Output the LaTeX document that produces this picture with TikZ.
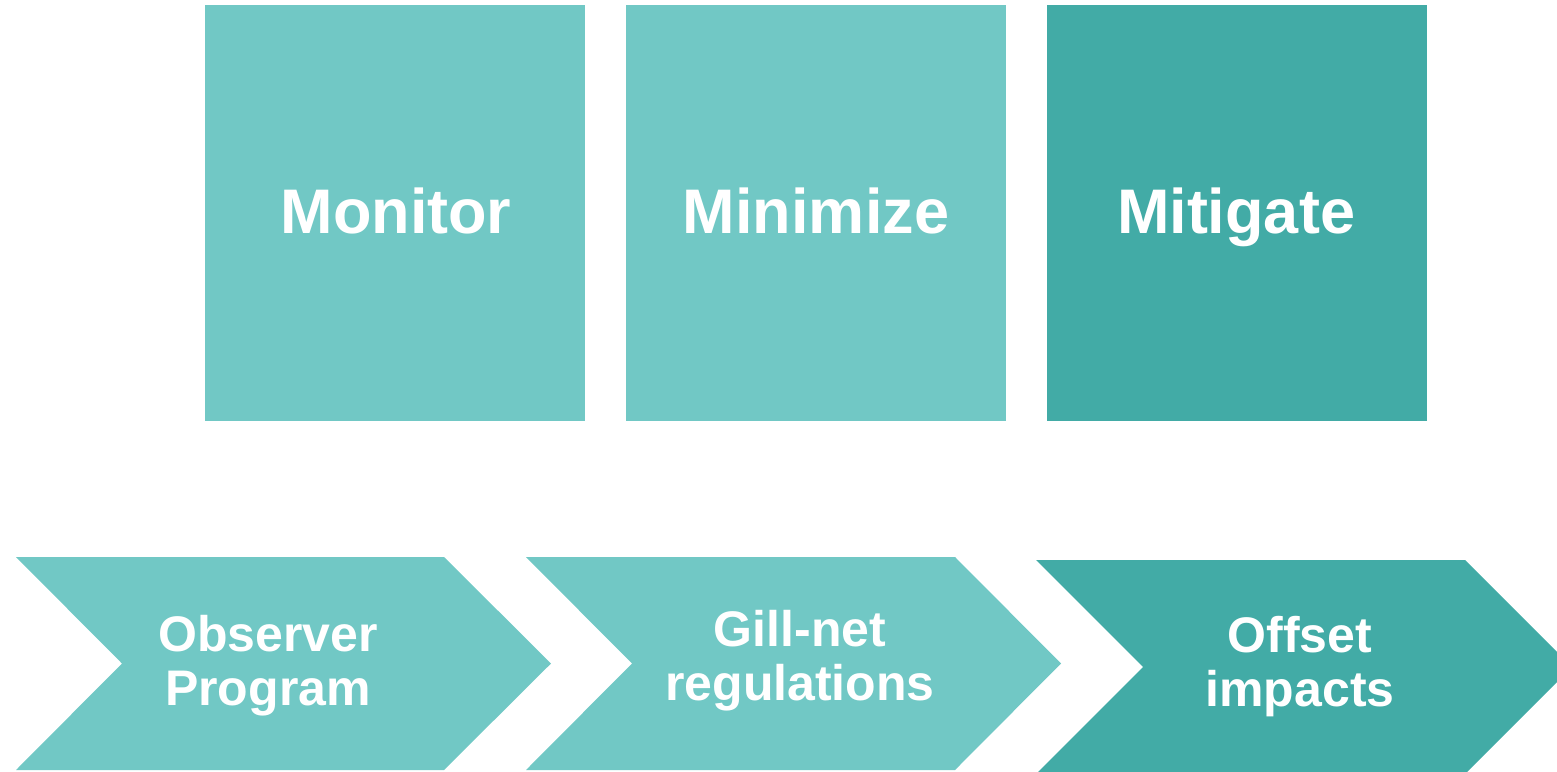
\documentclass[tikz,border=0pt]{standalone}
\usepackage{fontspec}
\setmainfont{Liberation Sans}
\definecolor{lightteal}{HTML}{71C8C5}
\definecolor{darkteal}{HTML}{42ABA6}
\begin{document}
\begin{tikzpicture}[x=1pt,y=-1pt,
  big/.style={text=white, font=\fontsize{63}{70}\selectfont\bfseries},
  chevtext/.style={text=white, align=center, inner sep=0pt, font=\fontsize{50}{54}\selectfont\bfseries}]
\useasboundingbox (0,0) rectangle (1557,771);
\begin{scope}
\clip (0,0) rectangle (1557,771);
% squares
\fill[lightteal] (205,5) rectangle (585,421);
\fill[lightteal] (626,5) rectangle (1006,421);
\fill[darkteal] (1047,5) rectangle (1427,421);
\node[big, anchor=base] (monitor) at (396,233) {Monitor};
\node[big, anchor=base] (minimize) at (816,233) {Minimize};
\node[big, anchor=base] (mitigate) at (1236,233) {Mitigate};
% chevrons
\fill[lightteal] (16,557) -- (444,557) -- (551,663.5) -- (444,770) -- (16,770) -- (122,663.5) -- cycle;
\fill[lightteal] (526,557) -- (955,557) -- (1061,663.5) -- (955,770) -- (526,770) -- (632,663.5) -- cycle;
\fill[darkteal] (1036,560) -- (1465,560) -- (1572,667) -- (1465,774) -- (1036,774) -- (1143,667) -- cycle;
\node[chevtext] (observer) at (268,666) {Observer\\Program};
\node[chevtext] (gillnet) at (800,661) {Gill-net\\regulations};
\node[chevtext] (offset) at (1300,667) {Offset\\impacts};
\end{scope}
\end{tikzpicture}
\end{document}
